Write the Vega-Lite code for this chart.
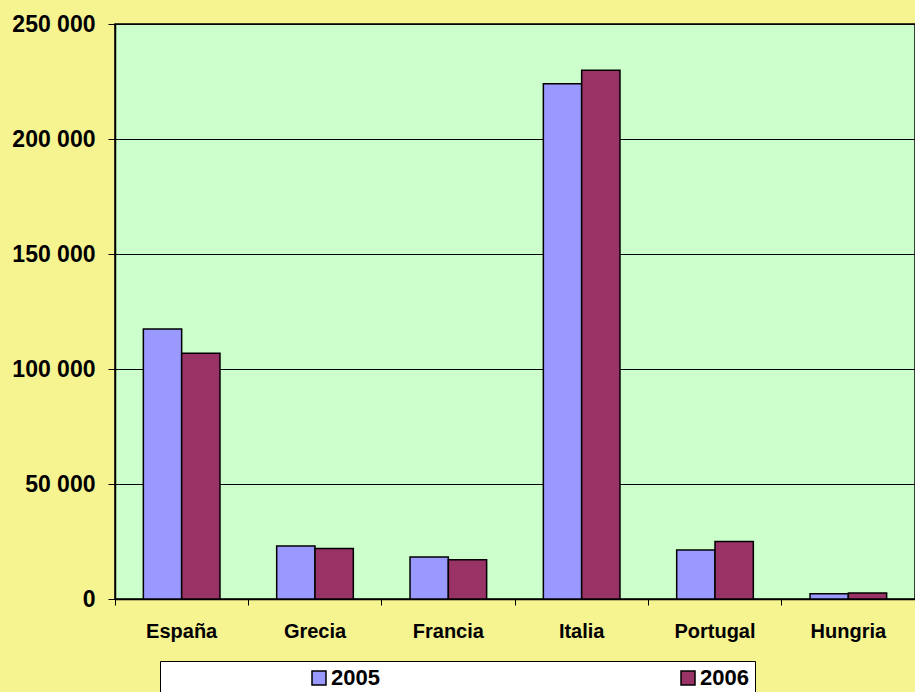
{
  "$schema": "https://vega.github.io/schema/vega-lite/v6.json",
  "width": 800,
  "height": 575,
  "autosize": {"type": "none"},
  "padding": {"left": 115, "top": 24, "right": 0, "bottom": 93},
  "background": "#F6F391",
  "data": {"values": [
    {"pais": "España", "anio": "2005", "valor": 117400},
    {"pais": "España", "anio": "2006", "valor": 106800},
    {"pais": "Grecia", "anio": "2005", "valor": 23000},
    {"pais": "Grecia", "anio": "2006", "valor": 22000},
    {"pais": "Francia", "anio": "2005", "valor": 18300},
    {"pais": "Francia", "anio": "2006", "valor": 17100},
    {"pais": "Italia", "anio": "2005", "valor": 224000},
    {"pais": "Italia", "anio": "2006", "valor": 229900},
    {"pais": "Portugal", "anio": "2005", "valor": 21300},
    {"pais": "Portugal", "anio": "2006", "valor": 25000},
    {"pais": "Hungria", "anio": "2005", "valor": 2300},
    {"pais": "Hungria", "anio": "2006", "valor": 2600}
  ]},
  "mark": {"type": "bar", "stroke": "black", "strokeWidth": 1.5},
  "encoding": {
    "x": {
      "field": "pais", "type": "nominal", "sort": null,
      "scale": {"paddingInner": 0, "paddingOuter": 0},
      "axis": {
        "title": null, "labelAngle": 0, "bandPosition": 0,
        "labelFont": "Liberation Sans", "labelFontWeight": "bold", "labelFontSize": 20,
        "labelColor": "black", "labelPadding": 16, "tickSize": 6, "tickColor": "black",
        "domainColor": "black", "domainWidth": 1.5, "grid": false
      }
    },
    "xOffset": {"field": "anio", "type": "nominal", "scale": {"paddingOuter": 0.74, "paddingInner": 0}},
    "y": {
      "field": "valor", "type": "quantitative",
      "scale": {"domain": [0, 250000]},
      "axis": {
        "title": null, "values": [0, 50000, 100000, 150000, 200000, 250000],
        "labelExpr": "replace(format(datum.value, ','), ',', ' ')",
        "labelFont": "Liberation Sans", "labelFontWeight": "bold", "labelFontSize": 23,
        "labelColor": "black", "labelPadding": 13, "tickSize": 7, "tickColor": "black",
        "domainColor": "black", "domainWidth": 1.5, "gridColor": "black", "gridOpacity": 1, "gridWidth": 1
      }
    },
    "fill": {
      "field": "anio", "type": "nominal",
      "scale": {"domain": ["2005", "2006"], "range": ["#9999FF", "#993366"]},
      "legend": {
        "title": null, "orient": "none", "direction": "horizontal", "columns": 2,
        "legendX": 45, "legendY": 637, "padding": 6,
        "fillColor": "white", "strokeColor": "black",
        "symbolType": "square", "symbolSize": 196, "symbolStrokeColor": "black", "symbolStrokeWidth": 1.5,
        "symbolOffset": 142, "labelOffset": 1, "columnPadding": 155,
        "labelFont": "Liberation Sans", "labelFontWeight": "bold", "labelFontSize": 22, "labelColor": "black"
      }
    }
  },
  "config": {
    "view": {"fill": "#CCFFCC", "stroke": "black", "strokeWidth": 1.5}
  }
}
